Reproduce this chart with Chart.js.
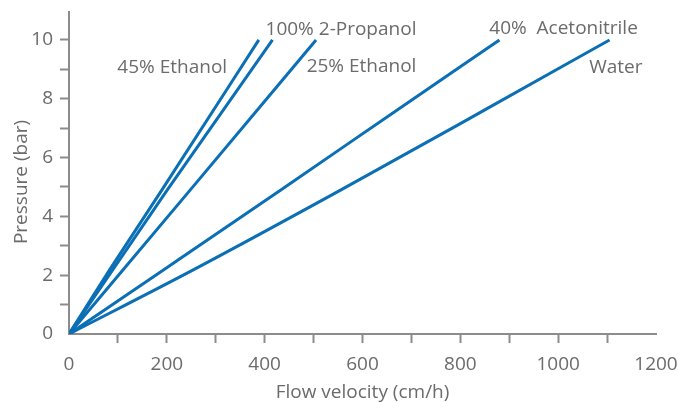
<!DOCTYPE html>
<html>
<head>
<meta charset="utf-8">
<script src="https://cdn.jsdelivr.net/npm/chart.js@4/dist/chart.umd.min.js"></script>
<style>
  html, body { margin: 0; padding: 0; background: #fff; }
  #wrap { width: 678px; height: 402px; }
</style>
</head>
<body>
<div id="wrap"><canvas id="myChart"></canvas></div>
<script>
// Data
const seriesNames = ['45% Ethanol', '100% 2-Propanol', '25% Ethanol', '40%  Acetonitrile', 'Water'];

// flow velocity (cm/h) and pressure (bar) for each curve
const ethanol45Velocity = [0, 83, 190, 388];
const ethanol45Pressure = [0, 2.18, 4.9, 10];
const propanolVelocity = [0, 201, 416];
const propanolPressure = [0, 4.9, 10];
const ethanol25Velocity = [0, 248, 505];
const ethanol25Pressure = [0, 4.9, 10];
const acetonitrileVelocity = [0, 193, 433, 671, 880];
const acetonitrilePressure = [0, 2.18, 4.9, 7.62, 10];
const waterVelocity = [0, 254, 556, 850, 1105];
const waterPressure = [0, 2.18, 4.9, 7.62, 10];

const xTicks = [0, 200, 400, 600, 800, 1000, 1200];
const yTicks = [0, 2, 4, 6, 8, 10];

// where each curve's name sits (velocity, pressure)
const labelVelocity = [211, 556, 598, 1011, 1118];
const labelPressure = [9.05, 10.34, 9.08, 10.38, 9.05];

const lineColor = '#0a6fb5';
const axisColor = '#8c8c8c';
const textColor = '#6b6b6b';
const fontFamily = '"Open Sans", "Noto Sans", sans-serif';
const fontSize = 19;

function toPoints(xs, ys) {
    return xs.map((x, i) => ({ x: x, y: ys[i] }));
}

const allSeries = [
    toPoints(ethanol45Velocity, ethanol45Pressure),
    toPoints(propanolVelocity, propanolPressure),
    toPoints(ethanol25Velocity, ethanol25Pressure),
    toPoints(acetonitrileVelocity, acetonitrilePressure),
    toPoints(waterVelocity, waterPressure)
];

// Curve names next to the lines, plus the y axis title
const curveLabels = {
    id: 'curveLabels',
    afterDatasetsDraw(chart) {
        const ctx = chart.ctx;
        const xs = chart.scales.x;
        const ys = chart.scales.y;
        const area = chart.chartArea;
        ctx.save();
        ctx.font = fontSize + 'px ' + fontFamily;
        ctx.fillStyle = textColor;
        ctx.textAlign = 'center';
        ctx.textBaseline = 'middle';
        seriesNames.forEach((name, i) => {
            ctx.fillText(name, xs.getPixelForValue(labelVelocity[i]), ys.getPixelForValue(labelPressure[i]));
        });
        // y title
        ctx.translate(22, (area.top + area.bottom) / 2 + 9);
        ctx.rotate(-Math.PI / 2);
        ctx.fillText('Pressure (bar)', 0, 0);
        ctx.restore();
    }
};

const hideEnds = (ctx) => {
    const v = ctx.tick ? ctx.tick.value : null;
    return (v === 0 || v === 1200) ? 'rgba(0,0,0,0)' : axisColor;
};

new Chart(document.getElementById('myChart').getContext('2d'), {
    type: 'line',
    data: {
        datasets: allSeries.map((pts, i) => ({
            label: seriesNames[i],
            data: pts,
            borderColor: lineColor,
            borderWidth: 3,
            pointRadius: 0,
            fill: false,
            cubicInterpolationMode: 'monotone'
        }))
    },
    options: {
        responsive: true,
        maintainAspectRatio: false,
        animation: false,
        layout: { padding: { top: 12, right: 22, left: 0, bottom: 0 } },
        plugins: {
            legend: { display: false },
            tooltip: { enabled: false }
        },
        scales: {
            x: {
                type: 'linear',
                min: 0,
                max: 1200,
                afterFit: (scale) => {
                    scale.height = 68;
                    scale.paddingLeft = 0;
                    scale.paddingRight = 0;
                },
                ticks: {
                    stepSize: 100,
                    autoSkip: false,
                    maxRotation: 0,
                    padding: 10,
                    color: textColor,
                    font: { family: fontFamily, size: fontSize },
                    callback: (v) => xTicks.includes(v) ? v : ''
                },
                grid: {
                    drawOnChartArea: false,
                    drawTicks: true,
                    tickLength: 9,
                    tickWidth: 2,
                    color: hideEnds
                },
                border: { display: true, color: axisColor, width: 2 },
                title: {
                    display: true,
                    text: 'Flow velocity (cm/h)',
                    color: textColor,
                    font: { family: fontFamily, size: fontSize, lineHeight: 1 },
                    padding: { top: 0, bottom: 0 }
                }
            },
            y: {
                min: 0,
                max: 10.95,
                afterFit: (scale) => {
                    scale.width = 69;
                    scale.paddingTop = 0;
                    scale.paddingBottom = 0;
                },
                afterBuildTicks: (scale) => {
                    scale.ticks = [0, 1, 2, 3, 4, 5, 6, 7, 8, 9, 10].map(v => ({ value: v }));
                },
                ticks: {
                    padding: 7,
                    color: textColor,
                    font: { family: fontFamily, size: fontSize },
                    callback: (v) => yTicks.includes(v) ? v : ''
                },
                grid: {
                    drawOnChartArea: false,
                    drawTicks: true,
                    tickLength: 9,
                    tickWidth: 2,
                    color: hideEnds
                },
                border: { display: true, color: axisColor, width: 2 }
            }
        }
    },
    plugins: [curveLabels]
});
</script>
</body>
</html>
